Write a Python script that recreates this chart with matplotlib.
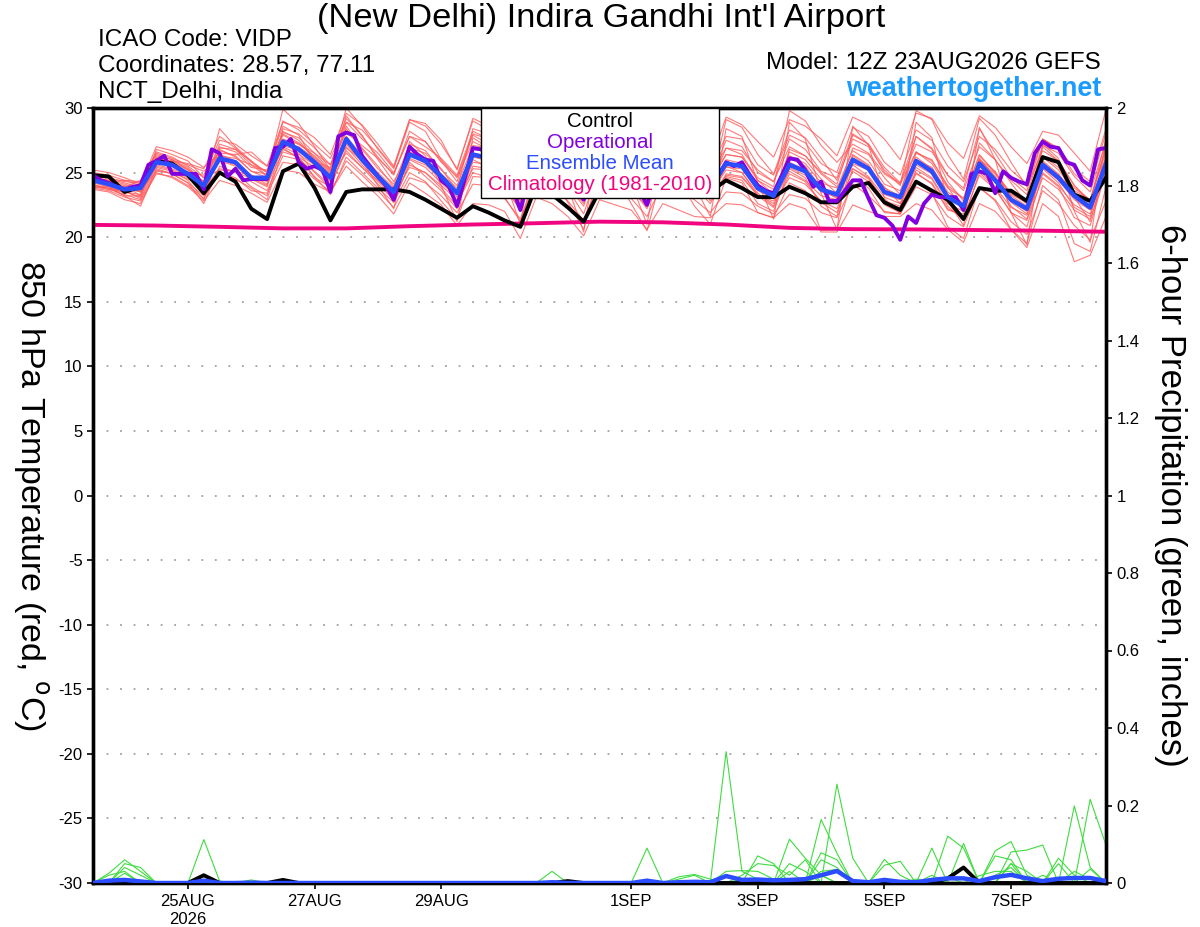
import matplotlib
matplotlib.use('Agg')
import matplotlib.pyplot as plt
import numpy as np
import pandas as pd
from matplotlib.patches import Rectangle
from matplotlib.ticker import FuncFormatter

plt.rcParams['font.family'] = ['Liberation Sans', 'DejaVu Sans']
plt.rcParams['axes.unicode_minus'] = False

# ---- data ----
run = pd.Timestamp('2026-08-23 12:00')
t6 = pd.date_range(run, periods=65, freq='6h')    # f000..f384 every 6h
t3 = pd.date_range(run, periods=129, freq='3h')   # operational, every 3h
t24 = pd.date_range(run, periods=17, freq='24h')  # climatology, daily

control_t = [24.8, 24.7, 23.5, 23.9, 25.9, 25.7, 24.8, 23.4, 25.0, 24.3, 22.2, 21.4,
             25.1, 25.7, 23.8, 21.3, 23.5, 23.7, 23.7, 23.7, 23.5, 22.9, 22.2, 21.5,
             22.4, 21.9, 21.3, 20.8, 24.0, 23.3, 22.3, 21.2, 23.6, 24.0, 23.7, 23.3,
             24.0, 23.9, 23.6, 23.5, 24.4, 23.8, 23.1, 23.1, 23.9, 23.4, 22.7, 22.7,
             23.9, 24.2, 22.7, 22.1, 24.3, 23.6, 22.9, 21.4, 23.8, 23.6, 23.6, 22.8,
             26.2, 25.8, 23.3, 22.8, 24.6]

mean_t = [24.4, 24.1, 23.7, 23.8, 25.8, 25.6, 24.9, 24.0, 26.1, 25.8, 24.6, 24.6,
          27.4, 26.8, 25.8, 24.6, 27.6, 26.0, 24.7, 23.5, 26.4, 25.9, 24.7, 23.4,
          26.4, 26.1, 25.0, 23.2, 26.6, 26.0, 24.8, 23.3, 26.4, 25.9, 25.0, 23.5,
          26.2, 25.7, 24.8, 23.8, 25.7, 25.5, 23.8, 23.2, 25.6, 25.1, 23.7, 23.3,
          26.0, 25.3, 23.5, 23.1, 25.9, 25.1, 23.1, 22.4, 25.7, 24.4, 22.9, 22.2,
          25.6, 24.6, 23.2, 22.3, 25.7]

oper_t = [24.8, 24.4, 24.2, 23.9, 23.7, 23.9, 24.0, 25.6,
          25.9, 26.3, 24.9, 24.9, 24.9, 24.9, 23.7, 26.8,
          26.5, 24.7, 25.3, 24.4, 24.5, 24.5, 24.5, 26.9,
          27.0, 27.6, 25.8, 25.3, 25.5, 25.2, 23.5, 27.8,
          28.1, 27.9, 26.3, 25.5, 24.7, 24.0, 22.9, 25.0,
          27.0, 26.4, 26.0, 25.9, 24.4, 23.9, 22.4, 24.6,
          26.9, 26.8, 26.5, 26.0, 25.0, 23.8, 22.1, 24.5,
          26.8, 27.0, 26.2, 25.4, 24.5, 23.8, 22.9, 24.8,
          26.6, 26.8, 26.0, 25.5, 24.6, 23.6, 22.5, 24.4,
          26.3, 26.5, 25.8, 25.6, 24.8, 24.2, 23.5, 24.8,
          25.8, 25.5, 25.8, 24.8, 24.0, 23.6, 23.4, 24.7,
          26.1, 26.0, 25.2, 23.9, 24.3, 22.8, 22.8, 23.6,
          24.4, 24.4, 23.0, 21.7, 21.5, 20.9, 19.8, 21.6,
          21.1, 22.6, 23.3, 23.1, 23.1, 23.1, 22.1, 24.9,
          25.1, 24.9, 23.4, 25.1, 24.6, 24.3, 24.1, 26.5,
          27.4, 27.0, 26.9, 25.8, 25.6, 24.4, 24.0, 26.8,
          26.9]

clim_t = [20.95, 20.9, 20.8, 20.68, 20.68, 20.85, 20.98, 21.08, 21.2,
          21.15, 20.98, 20.72, 20.62, 20.6, 20.55, 20.5, 20.42]

members_t = [
    [24.9, 24.6, 24.3, 24.2, 26.6, 26.2, 25.5, 24.6, 27.0, 26.6, 25.4, 25.2, 28.6, 27.9, 25.8, 25.4,
     29.4, 27.8, 26.2, 24.8, 28.2, 27.4, 25.9, 24.3, 28.0, 27.6, 26.4, 24.1, 28.3, 27.5, 26.0, 24.2,
     28.1, 27.3, 26.2, 24.4, 27.9, 27.1, 25.9, 24.6, 27.5, 27.0, 25.0, 24.3, 27.6, 26.8, 25.1, 24.6,
     28.0, 27.2, 25.0, 24.2, 27.8, 26.9, 24.8, 23.8, 28.4, 26.5, 24.6, 23.6, 27.6, 26.8, 24.9, 23.9, 28.1],
    [23.8, 23.6, 23.1, 22.8, 24.9, 24.7, 24.0, 23.0, 25.0, 24.6, 23.6, 23.4, 25.8, 25.6, 24.5, 23.5,
     25.9, 24.8, 23.6, 22.3, 24.6, 24.2, 23.2, 21.9, 24.1, 24.0, 23.0, 21.4, 24.5, 24.1, 22.8, 21.3,
     24.3, 23.8, 23.0, 21.6, 24.2, 23.6, 22.9, 21.9, 23.5, 23.4, 22.4, 21.8, 23.3, 23.0, 21.9, 21.5,
     24.1, 23.2, 22.0, 21.8, 23.9, 23.3, 21.6, 20.8, 23.8, 22.9, 21.2, 20.2, 23.6, 22.6, 20.9, 19.8, 22.8],
    [24.6, 24.4, 23.8, 23.5, 26.1, 25.8, 25.2, 24.3, 26.8, 26.2, 25.1, 24.9, 29.9, 28.8, 27.0, 25.2,
     30.0, 28.6, 26.8, 25.3, 28.9, 28.2, 26.0, 24.6, 27.4, 26.8, 25.9, 24.9, 27.0, 26.4, 25.1, 23.6,
     26.8, 26.3, 25.4, 23.9, 27.5, 26.9, 25.6, 24.2, 26.4, 26.2, 24.6, 23.9, 29.8, 29.0, 27.1, 25.8,
     27.2, 26.5, 24.9, 24.1, 26.6, 25.9, 24.0, 23.0, 26.4, 25.0, 23.4, 22.6, 26.3, 25.4, 23.8, 22.9, 26.9],
    [24.2, 23.9, 23.4, 23.9, 25.6, 25.3, 24.8, 23.8, 28.4, 27.0, 25.9, 25.0, 27.1, 26.7, 25.6, 24.3,
     27.3, 25.9, 24.6, 23.2, 26.0, 25.4, 24.2, 23.1, 25.8, 25.6, 24.8, 22.8, 26.2, 25.6, 24.6, 23.0,
     25.9, 25.4, 24.4, 23.1, 25.7, 25.3, 24.3, 23.4, 25.2, 25.0, 23.2, 22.8, 25.1, 24.4, 23.2, 22.9,
     25.6, 24.7, 23.1, 22.6, 25.4, 24.6, 22.6, 22.0, 25.2, 23.9, 22.3, 21.7, 25.0, 24.0, 22.5, 21.8, 25.2],
    [25.2, 25.0, 24.6, 24.1, 27.0, 26.7, 26.2, 25.4, 26.5, 26.4, 26.6, 25.5, 28.0, 27.3, 26.2, 25.0,
     28.4, 26.8, 25.3, 24.1, 27.2, 26.7, 25.2, 24.0, 27.1, 26.9, 25.7, 23.9, 27.4, 26.7, 25.6, 24.0,
     27.0, 26.5, 25.5, 24.1, 26.9, 26.4, 25.4, 24.4, 26.4, 26.2, 24.4, 23.7, 26.3, 25.7, 24.2, 23.8,
     26.7, 25.9, 24.1, 23.6, 26.6, 25.7, 23.8, 23.0, 26.3, 25.0, 23.3, 22.7, 26.2, 25.2, 23.6, 22.9, 26.6],
    [24.0, 23.8, 23.2, 22.4, 25.3, 24.9, 24.2, 22.6, 25.5, 25.0, 23.9, 23.2, 27.5, 26.5, 25.0, 23.8,
     27.8, 25.9, 24.0, 22.2, 27.4, 26.3, 24.0, 21.2, 27.7, 26.9, 24.5, 21.0, 28.1, 26.8, 23.9, 20.4,
     28.0, 26.7, 24.2, 21.0, 27.8, 26.6, 24.0, 21.6, 28.4, 27.8, 24.2, 21.4, 28.9, 27.6, 23.4, 20.6,
     28.6, 27.1, 23.0, 21.8, 28.9, 27.7, 22.8, 20.9, 28.5, 26.0, 21.9, 19.4, 27.2, 26.1, 22.0, 19.6, 27.8],
    [24.5, 24.1, 23.7, 23.6, 25.1, 25.0, 24.5, 24.0, 25.9, 25.5, 24.5, 24.4, 27.0, 26.4, 25.6, 24.3,
     27.2, 25.8, 24.5, 23.6, 26.1, 25.6, 24.5, 23.4, 26.2, 25.9, 24.7, 23.3, 26.5, 26.1, 24.9, 23.6,
     26.3, 25.6, 24.6, 23.4, 26.0, 25.5, 24.7, 23.7, 25.4, 25.3, 23.6, 23.0, 25.4, 24.8, 23.5, 23.1,
     25.7, 25.2, 23.3, 22.9, 25.6, 24.9, 23.0, 22.3, 25.5, 24.3, 22.8, 22.0, 25.4, 24.4, 22.9, 22.1, 25.3],
    [24.7, 24.3, 24.0, 23.2, 26.2, 25.7, 25.0, 24.8, 27.5, 27.2, 26.3, 25.5, 28.9, 28.5, 27.7, 26.4,
     29.6, 28.7, 27.2, 25.5, 29.1, 28.8, 27.5, 25.2, 29.2, 28.6, 27.4, 25.0, 29.4, 28.8, 27.4, 25.2,
     29.5, 28.7, 27.2, 25.3, 29.4, 28.4, 27.1, 25.8, 29.3, 28.7, 27.4, 26.2, 29.1, 28.6, 27.6, 26.3,
     29.3, 28.7, 27.6, 26.0, 29.6, 29.2, 27.3, 26.1, 29.4, 28.5, 27.0, 25.7, 28.2, 27.9, 26.5, 25.1, 29.9],
    [23.7, 23.5, 22.9, 22.6, 25.0, 24.6, 23.9, 22.8, 24.4, 24.0, 23.4, 22.7, 25.2, 25.0, 24.1, 23.5,
     25.5, 24.3, 23.2, 21.8, 24.2, 23.4, 22.5, 20.9, 22.6, 22.5, 22.0, 19.9, 23.1, 22.6, 21.6, 20.1,
     22.9, 22.5, 22.1, 20.6, 22.6, 22.1, 21.6, 21.5, 22.6, 22.5, 21.9, 21.5, 22.6, 22.2, 20.4, 20.4,
     22.5, 22.0, 21.6, 21.6, 22.6, 22.1, 20.6, 19.6, 22.6, 22.0, 20.6, 19.2, 22.6, 21.6, 18.1, 18.6, 21.6],
    [24.3, 24.2, 23.9, 24.4, 26.5, 26.1, 25.6, 25.1, 26.3, 26.1, 25.6, 24.7, 27.9, 27.2, 26.3, 25.1,
     28.6, 26.9, 25.5, 23.9, 26.9, 26.5, 25.3, 23.6, 26.8, 26.6, 25.6, 23.6, 26.9, 26.2, 25.0, 23.5,
     26.6, 26.2, 25.1, 23.7, 26.5, 25.9, 25.0, 23.9, 26.0, 25.7, 23.9, 23.1, 26.1, 25.5, 23.8, 23.2,
     26.4, 25.6, 23.6, 23.0, 26.2, 25.3, 23.3, 22.5, 26.0, 24.7, 23.0, 22.3, 25.9, 24.9, 23.3, 22.5, 26.1],
    [24.1, 23.7, 23.5, 23.3, 26.8, 26.4, 25.9, 24.6, 25.2, 25.1, 24.8, 24.1, 26.6, 26.2, 25.4, 24.8,
     26.5, 25.4, 24.4, 23.3, 25.4, 25.0, 24.0, 22.9, 25.3, 25.2, 24.3, 22.8, 25.7, 25.3, 24.1, 22.6,
     25.5, 24.9, 24.2, 22.9, 25.3, 24.8, 24.1, 23.1, 24.8, 24.6, 23.3, 22.6, 24.6, 24.1, 22.8, 22.2,
     25.1, 24.3, 22.6, 22.3, 24.9, 24.2, 22.2, 21.6, 24.8, 23.7, 21.9, 21.3, 24.6, 23.7, 22.1, 21.4, 24.9],
    [24.6, 24.4, 24.1, 23.7, 25.9, 25.5, 24.9, 23.9, 26.0, 25.6, 24.8, 24.3, 28.2, 27.5, 26.0, 24.8,
     28.9, 28.3, 26.9, 25.4, 29.1, 28.6, 27.2, 25.3, 29.0, 28.3, 27.0, 24.7, 26.0, 25.5, 24.0, 22.4,
     26.6, 26.3, 25.2, 23.8, 26.7, 26.1, 25.2, 24.0, 26.9, 26.4, 24.4, 23.3, 26.6, 26.0, 24.5, 23.4,
     26.9, 26.4, 24.6, 23.3, 27.8, 26.8, 24.3, 22.8, 27.3, 26.0, 24.2, 22.6, 27.0, 25.9, 24.0, 22.7, 27.6],
    [23.9, 23.8, 23.6, 23.0, 25.5, 25.2, 24.6, 23.4, 26.2, 25.8, 24.3, 23.6, 26.3, 26.0, 25.1, 24.0,
     26.7, 25.4, 24.1, 22.9, 25.6, 25.0, 23.8, 22.4, 25.5, 25.3, 24.1, 22.0, 25.9, 25.2, 23.7, 21.8,
     25.5, 24.9, 23.8, 22.2, 25.3, 24.9, 23.9, 22.6, 24.9, 24.7, 23.2, 22.3, 24.9, 24.3, 22.7, 21.9,
     25.3, 24.5, 22.5, 21.9, 25.2, 24.5, 22.4, 21.3, 25.0, 23.8, 21.9, 20.8, 24.9, 23.9, 21.5, 20.9, 25.1],
    [24.4, 24.3, 24.4, 24.0, 26.4, 26.0, 25.4, 24.2, 27.2, 26.8, 25.6, 25.1, 28.1, 27.7, 26.5, 25.6,
     28.1, 27.1, 26.1, 24.9, 27.8, 27.4, 25.8, 24.7, 27.9, 27.2, 26.1, 24.6, 28.8, 27.9, 26.3, 24.7,
     28.4, 28.0, 26.5, 24.9, 28.6, 27.8, 26.6, 25.3, 27.8, 27.6, 25.6, 24.8, 27.9, 27.3, 25.7, 25.0,
     28.5, 27.8, 25.8, 24.8, 28.3, 27.5, 25.5, 24.3, 27.8, 26.8, 25.2, 24.1, 27.6, 26.9, 25.3, 24.3, 28.4],
    [23.9, 23.7, 23.3, 22.9, 25.2, 24.9, 24.2, 23.2, 24.9, 24.5, 23.8, 22.9, 26.9, 26.1, 24.7, 23.3,
     26.2, 25.0, 23.8, 22.7, 25.0, 24.3, 22.8, 21.4, 24.7, 24.6, 23.1, 21.2, 25.2, 24.6, 22.7, 20.6,
     25.4, 24.8, 22.6, 20.5, 25.1, 24.5, 22.4, 21.0, 24.6, 24.2, 21.9, 21.5, 24.2, 23.6, 20.5, 20.6,
     24.5, 23.8, 21.9, 21.8, 24.4, 23.4, 20.8, 19.9, 23.9, 22.8, 20.6, 19.5, 24.0, 22.9, 19.5, 18.9, 23.9],
    [24.8, 24.5, 24.2, 23.9, 26.0, 25.9, 25.3, 24.3, 26.7, 26.3, 25.1, 24.6, 27.3, 27.0, 26.1, 24.9,
     27.8, 26.3, 25.0, 23.8, 26.6, 26.0, 24.7, 23.5, 26.5, 26.3, 25.2, 23.4, 27.0, 26.4, 25.3, 23.2,
     26.8, 26.1, 25.0, 23.4, 26.4, 26.0, 24.9, 23.5, 25.8, 25.4, 24.0, 23.3, 25.8, 25.2, 23.7, 23.0,
     26.3, 25.5, 23.8, 23.2, 26.0, 25.4, 23.5, 22.6, 25.9, 24.9, 23.2, 22.4, 25.8, 24.8, 23.2, 22.5, 26.3],
    [24.3, 24.0, 23.5, 23.1, 26.3, 26.0, 25.2, 23.6, 26.4, 25.9, 24.6, 24.0, 28.4, 28.0, 26.9, 25.6,
     29.2, 27.9, 26.0, 24.3, 26.6, 26.1, 24.9, 23.8, 28.4, 28.0, 26.3, 24.2, 27.6, 27.0, 25.6, 23.9,
     29.4, 28.4, 26.3, 24.6, 27.4, 26.8, 25.5, 24.0, 29.1, 28.5, 26.4, 24.9, 28.3, 27.7, 26.1, 24.4,
     27.6, 27.0, 25.2, 24.0, 29.8, 29.1, 26.4, 24.5, 29.2, 27.9, 25.8, 23.9, 26.7, 25.9, 24.0, 22.8, 27.0],
    [24.0, 23.9, 23.2, 23.2, 25.7, 25.5, 24.9, 23.7, 25.3, 25.1, 24.5, 23.9, 27.6, 27.2, 26.5, 25.2,
     27.0, 25.6, 24.3, 23.1, 26.4, 25.7, 24.6, 22.6, 25.0, 24.6, 23.6, 22.3, 26.6, 26.0, 24.8, 22.9,
     25.2, 24.6, 23.6, 22.4, 26.1, 25.6, 24.4, 23.0, 25.5, 25.0, 23.4, 22.4, 26.8, 26.3, 24.9, 23.9,
     25.3, 24.6, 22.8, 22.4, 26.5, 26.0, 23.9, 22.0, 26.0, 25.1, 22.7, 21.8, 25.3, 24.2, 22.3, 21.6, 26.0],
    [24.6, 24.2, 23.9, 23.5, 25.4, 25.1, 24.4, 22.9, 26.9, 26.8, 25.9, 24.7, 26.8, 26.2, 24.6, 23.9,
     26.9, 26.0, 24.9, 22.7, 25.8, 24.7, 23.6, 22.2, 26.0, 25.4, 24.2, 22.6, 27.3, 27.0, 26.0, 23.8,
     26.0, 25.3, 24.3, 22.5, 27.0, 26.3, 24.6, 22.8, 24.7, 24.4, 22.6, 22.0, 25.3, 24.6, 22.4, 21.6,
     26.0, 25.2, 23.9, 22.6, 25.0, 24.1, 22.1, 21.8, 26.1, 24.6, 22.4, 21.4, 25.3, 24.8, 23.1, 21.2, 25.6],
    [25.0, 24.8, 24.4, 24.3, 26.1, 25.9, 25.7, 25.3, 27.8, 26.9, 25.8, 25.0, 29.0, 28.3, 27.2, 26.1,
     28.9, 27.6, 26.5, 25.0, 27.8, 27.0, 26.1, 24.8, 28.2, 27.6, 26.6, 24.5, 27.8, 27.3, 26.0, 24.4,
     27.6, 27.2, 26.1, 24.6, 28.0, 27.4, 26.4, 24.9, 26.9, 26.7, 25.2, 24.3, 27.0, 26.3, 25.0, 24.1,
     27.9, 27.2, 25.4, 24.2, 27.2, 26.6, 24.8, 23.6, 27.0, 26.0, 24.4, 23.3, 27.1, 26.5, 24.7, 23.5, 27.4],
]

# 6-hour precipitation (inches)
control_p = [0, 0, 0, 0, 0, 0, 0, 0.02, 0, 0, 0, 0, 0.008, 0, 0, 0,
             0, 0, 0, 0, 0, 0, 0, 0, 0, 0, 0, 0, 0, 0, 0.005, 0,
             0, 0, 0, 0, 0, 0, 0, 0, 0, 0, 0, 0, 0, 0, 0, 0,
             0, 0, 0, 0, 0, 0, 0.012, 0.04, 0, 0, 0, 0, 0, 0, 0, 0, 0]
mean_p = [0, 0.006, 0.008, 0.004, 0, 0, 0, 0.006, 0, 0, 0.001, 0, 0, 0, 0, 0,
          0, 0, 0, 0, 0, 0, 0, 0, 0, 0, 0, 0, 0, 0.002, 0, 0,
          0, 0, 0, 0.006, 0, 0.002, 0.003, 0.002, 0.018, 0.008, 0.009, 0.007, 0.008, 0.01, 0.02, 0.031,
          0.005, 0.002, 0.008, 0.003, 0.002, 0.008, 0.012, 0.012, 0.005, 0.015, 0.021, 0.012, 0.005,
          0.011, 0.013, 0.013, 0.005]
# ensemble members: step index -> amount (all other steps dry)
members_p = [
    {1: 0.025, 2: 0.06, 3: 0.03, 40: 0.339, 41: 0.03, 42: 0.01, 46: 0.02, 58: 0.05},
    {2: 0.05, 3: 0.04, 7: 0.112, 8: 0.005, 44: 0.113, 45: 0.064, 46: 0.02, 62: 0.199, 63: 0.04},
    {2: 0.04, 3: 0.02, 35: 0.09, 47: 0.255, 48: 0.064, 57: 0.083, 58: 0.107, 59: 0.02},
    {1: 0.02, 2: 0.03, 10: 0.008, 42: 0.07, 43: 0.05, 46: 0.164, 47: 0.077, 55: 0.102, 63: 0.216, 64: 0.098},
    {2: 0.025, 37: 0.016, 38: 0.022, 39: 0.01, 46: 0.078, 47: 0.06, 54: 0.121, 55: 0.09,
     58: 0.08, 59: 0.085, 60: 0.098},
    {29: 0.03, 40: 0.03, 41: 0.032, 42: 0.03, 43: 0.01, 50: 0.061, 51: 0.02, 57: 0.07, 58: 0.06,
     61: 0.064, 62: 0.02},
    {41: 0.02, 42: 0.05, 43: 0.045, 44: 0.02, 45: 0.06, 50: 0.046, 51: 0.056, 53: 0.09, 58: 0.05,
     59: 0.03, 61: 0.05},
    {37: 0.01, 38: 0.02, 44: 0.03, 46: 0.06, 47: 0.04, 53: 0.02, 56: 0.019, 57: 0.03, 58: 0.03,
     60: 0.02, 64: 0.01},
    {44: 0.05, 45: 0.03, 52: 0.01, 54: 0.015, 62: 0.03, 63: 0.01},
    {41: 0.01, 46: 0.03, 47: 0.035, 57: 0.02, 58: 0.04, 63: 0.036},
]

tick_dates = pd.to_datetime(['2026-08-25', '2026-08-27', '2026-08-29', '2026-09-01',
                             '2026-09-03', '2026-09-05', '2026-09-07'])
tick_labels = ['25AUG\n2026', '27AUG', '29AUG', '1SEP', '3SEP', '5SEP', '7SEP']

C_RED = '#ff5a5a'
C_GREEN = '#3fdc3f'
C_OPER = '#8000e0'
C_MEAN = '#2b4cff'
C_CLIM = '#f0047f'

# ---- figure ----
W, H = 1200, 927
fig = plt.figure(figsize=(W / 100, H / 100), dpi=100)
ax = fig.add_axes([93 / W, 44 / H, 1013 / W, 775 / H])

for m in members_t:
    ax.plot(t6, m, color=C_RED, lw=0.8, alpha=0.8, zorder=2)
ax.plot(t24, clim_t, color=C_CLIM, lw=2.8, zorder=3)
ax.plot(t6, control_t, color='black', lw=2.8, zorder=4)
ax.plot(t3, oper_t, color=C_OPER, lw=2.8, zorder=5)
ax.plot(t6, mean_t, color=C_MEAN, lw=3.2, zorder=6)

ax.set_ylim(-30, 30)
ax.set_xlim(t6[0], t6[-1])
ax.set_yticks(np.arange(-30, 31, 5))
ax.set_xticks(tick_dates)
ax.set_xticklabels(tick_labels)
ax.yaxis.grid(True, color='#a0a0a0', lw=1.3, linestyle=(0, (1, 6.5)))
ax.tick_params(axis='both', labelsize=12, length=4, width=1.2, color='black')
ax.tick_params(axis='x', pad=4)
ax.set_ylabel('850 hPa Temperature (red, $^{\\mathrm{o}}$C)', fontsize=24.5,
              rotation=270, va='center', ha='center')
ax.yaxis.set_label_coords(-0.062, 0.5)

ax2 = ax.twinx()
for m in members_p:
    p = np.zeros(len(t6))
    for k, v in m.items():
        p[k] = v
    ax2.plot(t6, p, color=C_GREEN, lw=0.8, zorder=2)
ax2.plot(t6, control_p, color='black', lw=2.8, zorder=4)
ax2.plot(t6, mean_p, color=C_MEAN, lw=3.2, zorder=5)
ax2.set_ylim(0, 2)
ax2.set_yticks(np.arange(0, 2.01, 0.2))
ax2.yaxis.set_major_formatter(FuncFormatter(lambda v, pos: '%g' % round(v, 1)))
ax2.tick_params(axis='y', labelsize=12, length=4, width=1.2)
ax2.set_ylabel('6-hour Precipitation (green, inches)', fontsize=25,
               rotation=270, va='center', ha='center')
ax2.yaxis.set_label_coords(1.064, 0.5)

for a in (ax, ax2):
    for s in a.spines.values():
        s.set_linewidth(2.4)

# legend box
ax2.add_patch(Rectangle(((481 - 93) / 1013, (883 - 198) / 775), 238 / 1013, 90 / 775,
                        transform=ax2.transAxes, facecolor='white', edgecolor='black',
                        lw=1.0, zorder=10))
leg_items = [('Control', 'black'), ('Operational', C_OPER),
             ('Ensemble Mean', C_MEAN), ('Climatology (1981-2010)', C_CLIM)]
for k, (txt, col) in enumerate(leg_items):
    ax2.text(0.5005, (883 - (121 + 21.3 * k)) / 775, txt, color=col, fontsize=14.8,
             ha='center', va='center', transform=ax2.transAxes, zorder=11)

# header texts
fig.text(601 / W, 1 - 18 / H, "(New Delhi) Indira Gandhi Int'l Airport", fontsize=24.8,
         ha='center', va='center')
fig.text(98 / W, 1 - 40 / H, 'ICAO Code: VIDP', fontsize=17.5, ha='left', va='center')
fig.text(98 / W, 1 - 66 / H, 'Coordinates: 28.57, 77.11', fontsize=17.5, ha='left', va='center')
fig.text(98 / W, 1 - 92 / H, 'NCT_Delhi, India', fontsize=17.5, ha='left', va='center')
fig.text(1101 / W, 1 - 63 / H, 'Model: 12Z 23AUG2026 GEFS', fontsize=17.5, ha='right', va='center')
fig.text(1101 / W, 1 - 89 / H, 'weathertogether.net', fontsize=19.4, fontweight='bold',
         color='#1a9cff', ha='right', va='center')

fig.savefig('out.png', dpi=100)
